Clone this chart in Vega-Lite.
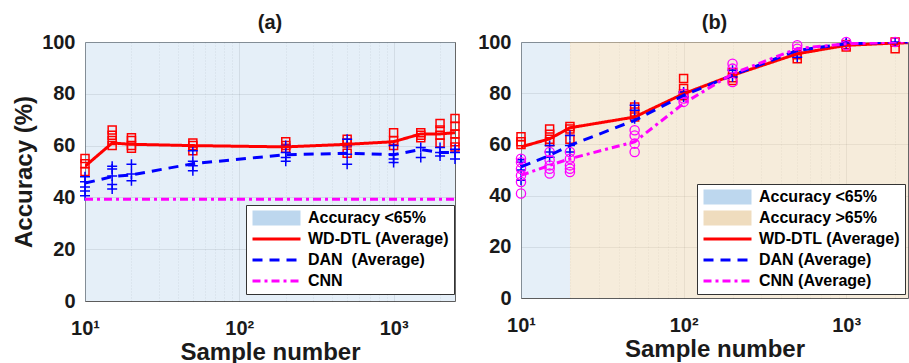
{
  "$schema": "https://vega.github.io/schema/vega-lite/v6.json",
  "padding": {"left": 12, "top": 12, "right": 0, "bottom": 0},
  "spacing": 13,
  "resolve": {
    "scale": {"color": "independent", "strokeDash": "independent", "shape": "independent"},
    "legend": {"color": "independent", "strokeDash": "independent", "shape": "independent"}
  },
  "config": {
    "font": "Liberation Sans",
    "view": {"stroke": "#666666", "strokeWidth": 1},
    "axis": {
      "labelFont": "Liberation Sans", "labelFontSize": 20, "labelFontWeight": "bold", "labelColor": "#1a1a1a",
      "titleFont": "Liberation Sans", "titleFontSize": 24, "titleFontWeight": "bold", "titleColor": "#1a1a1a",
      "ticks": false, "domain": false, "gridColor": "#262626", "gridOpacity": 0.15, "gridWidth": 1
    },
    "title": {"font": "Liberation Sans", "fontSize": 20, "fontWeight": "bold", "color": "#1a1a1a", "offset": -1, "frame": "group"},
    "legend": {
      "labelFont": "Liberation Sans", "labelFontSize": 16, "labelFontWeight": "bold", "labelColor": "#000000",
      "strokeColor": "#333333", "fillColor": "#ffffff", "padding": 5, "rowPadding": 5, "cornerRadius": 0,
      "symbolType": "stroke", "symbolSize": 2304, "symbolStrokeWidth": 3, "labelOffset": 6, "clipHeight": 16, "labelLimit": 300, "symbolOpacity": 1
    }
  },
  "datasets": {
    "a_region": [{"region": "Accuracy <65%", "from": 10, "to": 2500}],
    "a_avg": [
      {"method": "WD-DTL (Average)", "n": 10, "acc": 52}, {"method": "WD-DTL (Average)", "n": 15, "acc": 61}, {"method": "WD-DTL (Average)", "n": 20, "acc": 60.5}, {"method": "WD-DTL (Average)", "n": 50, "acc": 60}, {"method": "WD-DTL (Average)", "n": 200, "acc": 59.5}, {"method": "WD-DTL (Average)", "n": 500, "acc": 60.5}, {"method": "WD-DTL (Average)", "n": 1000, "acc": 61.5}, {"method": "WD-DTL (Average)", "n": 1500, "acc": 64.5}, {"method": "WD-DTL (Average)", "n": 2000, "acc": 64.5}, {"method": "WD-DTL (Average)", "n": 2500, "acc": 65},
      {"method": "DAN \u00a0(Average)", "n": 10, "acc": 45.5}, {"method": "DAN \u00a0(Average)", "n": 15, "acc": 48}, {"method": "DAN \u00a0(Average)", "n": 20, "acc": 48.7}, {"method": "DAN \u00a0(Average)", "n": 50, "acc": 53}, {"method": "DAN \u00a0(Average)", "n": 200, "acc": 56.5}, {"method": "DAN \u00a0(Average)", "n": 500, "acc": 57}, {"method": "DAN \u00a0(Average)", "n": 1000, "acc": 56.5}, {"method": "DAN \u00a0(Average)", "n": 1500, "acc": 58.5}, {"method": "DAN \u00a0(Average)", "n": 2000, "acc": 57.3}, {"method": "DAN \u00a0(Average)", "n": 2500, "acc": 57.3},
      {"method": "CNN", "n": 10, "acc": 39.3}, {"method": "CNN", "n": 2500, "acc": 39.3}
    ],
    "a_pts": [
      {"method": "WD-DTL", "n": 10, "acc": 55}, {"method": "WD-DTL", "n": 10, "acc": 53}, {"method": "WD-DTL", "n": 10, "acc": 50},
      {"method": "WD-DTL", "n": 15, "acc": 66}, {"method": "WD-DTL", "n": 15, "acc": 64}, {"method": "WD-DTL", "n": 15, "acc": 62}, {"method": "WD-DTL", "n": 15, "acc": 60},
      {"method": "WD-DTL", "n": 20, "acc": 63}, {"method": "WD-DTL", "n": 20, "acc": 62}, {"method": "WD-DTL", "n": 20, "acc": 60}, {"method": "WD-DTL", "n": 20, "acc": 59},
      {"method": "WD-DTL", "n": 50, "acc": 61}, {"method": "WD-DTL", "n": 50, "acc": 60}, {"method": "WD-DTL", "n": 50, "acc": 58},
      {"method": "WD-DTL", "n": 200, "acc": 61.5}, {"method": "WD-DTL", "n": 200, "acc": 60}, {"method": "WD-DTL", "n": 200, "acc": 59},
      {"method": "WD-DTL", "n": 500, "acc": 62.5}, {"method": "WD-DTL", "n": 500, "acc": 61}, {"method": "WD-DTL", "n": 500, "acc": 57},
      {"method": "WD-DTL", "n": 1000, "acc": 65}, {"method": "WD-DTL", "n": 1000, "acc": 62}, {"method": "WD-DTL", "n": 1000, "acc": 60},
      {"method": "WD-DTL", "n": 1500, "acc": 65}, {"method": "WD-DTL", "n": 1500, "acc": 64}, {"method": "WD-DTL", "n": 1500, "acc": 63},
      {"method": "WD-DTL", "n": 2000, "acc": 68.5}, {"method": "WD-DTL", "n": 2000, "acc": 66}, {"method": "WD-DTL", "n": 2000, "acc": 64}, {"method": "WD-DTL", "n": 2000, "acc": 61},
      {"method": "WD-DTL", "n": 2500, "acc": 70.5}, {"method": "WD-DTL", "n": 2500, "acc": 67.5}, {"method": "WD-DTL", "n": 2500, "acc": 64.5}, {"method": "WD-DTL", "n": 2500, "acc": 61.5}, {"method": "WD-DTL", "n": 2500, "acc": 59.5},
      {"method": "DAN", "n": 10, "acc": 48}, {"method": "DAN", "n": 10, "acc": 46}, {"method": "DAN", "n": 10, "acc": 44}, {"method": "DAN", "n": 10, "acc": 42.5}, {"method": "DAN", "n": 10, "acc": 40.6},
      {"method": "DAN", "n": 15, "acc": 52}, {"method": "DAN", "n": 15, "acc": 51}, {"method": "DAN", "n": 15, "acc": 48.3}, {"method": "DAN", "n": 15, "acc": 45}, {"method": "DAN", "n": 15, "acc": 43.2},
      {"method": "DAN", "n": 20, "acc": 52.8}, {"method": "DAN", "n": 20, "acc": 49}, {"method": "DAN", "n": 20, "acc": 46.4},
      {"method": "DAN", "n": 50, "acc": 58}, {"method": "DAN", "n": 50, "acc": 54}, {"method": "DAN", "n": 50, "acc": 52.2}, {"method": "DAN", "n": 50, "acc": 50.3},
      {"method": "DAN", "n": 200, "acc": 60}, {"method": "DAN", "n": 200, "acc": 57.3}, {"method": "DAN", "n": 200, "acc": 55.4}, {"method": "DAN", "n": 200, "acc": 54},
      {"method": "DAN", "n": 500, "acc": 62.5}, {"method": "DAN", "n": 500, "acc": 60}, {"method": "DAN", "n": 500, "acc": 56.7}, {"method": "DAN", "n": 500, "acc": 52.8},
      {"method": "DAN", "n": 1000, "acc": 60}, {"method": "DAN", "n": 1000, "acc": 56.7}, {"method": "DAN", "n": 1000, "acc": 54.8}, {"method": "DAN", "n": 1000, "acc": 53.5},
      {"method": "DAN", "n": 1500, "acc": 59.3}, {"method": "DAN", "n": 1500, "acc": 55.4},
      {"method": "DAN", "n": 2000, "acc": 59.3}, {"method": "DAN", "n": 2000, "acc": 57.3}, {"method": "DAN", "n": 2000, "acc": 56},
      {"method": "DAN", "n": 2500, "acc": 58.6}, {"method": "DAN", "n": 2500, "acc": 57.3}, {"method": "DAN", "n": 2500, "acc": 54.8}
    ],
    "b_region": [{"region": "Accuracy <65%", "from": 10, "to": 20}, {"region": "Accuracy >65%", "from": 20, "to": 2400}],
    "b_avg": [
      {"method": "WD-DTL (Average)", "n": 10, "acc": 59}, {"method": "WD-DTL (Average)", "n": 15, "acc": 62.2}, {"method": "WD-DTL (Average)", "n": 20, "acc": 66.5}, {"method": "WD-DTL (Average)", "n": 50, "acc": 70.7}, {"method": "WD-DTL (Average)", "n": 100, "acc": 79.8}, {"method": "WD-DTL (Average)", "n": 200, "acc": 87}, {"method": "WD-DTL (Average)", "n": 500, "acc": 95.4}, {"method": "WD-DTL (Average)", "n": 1000, "acc": 98.7}, {"method": "WD-DTL (Average)", "n": 2000, "acc": 99.6}, {"method": "WD-DTL (Average)", "n": 2500, "acc": 99.7},
      {"method": "DAN (Average)", "n": 10, "acc": 51.2}, {"method": "DAN (Average)", "n": 15, "acc": 55.7}, {"method": "DAN (Average)", "n": 20, "acc": 59.6}, {"method": "DAN (Average)", "n": 50, "acc": 69.4}, {"method": "DAN (Average)", "n": 100, "acc": 79.2}, {"method": "DAN (Average)", "n": 200, "acc": 87}, {"method": "DAN (Average)", "n": 500, "acc": 96.7}, {"method": "DAN (Average)", "n": 1000, "acc": 99.3}, {"method": "DAN (Average)", "n": 2000, "acc": 100}, {"method": "DAN (Average)", "n": 2500, "acc": 100},
      {"method": "CNN (Average)", "n": 10, "acc": 47.9}, {"method": "CNN (Average)", "n": 15, "acc": 51.8}, {"method": "CNN (Average)", "n": 20, "acc": 54.4}, {"method": "CNN (Average)", "n": 50, "acc": 61}, {"method": "CNN (Average)", "n": 100, "acc": 76}, {"method": "CNN (Average)", "n": 200, "acc": 87.6}, {"method": "CNN (Average)", "n": 500, "acc": 97.4}, {"method": "CNN (Average)", "n": 1000, "acc": 99.3}, {"method": "CNN (Average)", "n": 2000, "acc": 100}, {"method": "CNN (Average)", "n": 2500, "acc": 100}
    ],
    "b_pts": [
      {"method": "WD-DTL", "n": 10, "acc": 63}, {"method": "WD-DTL", "n": 10, "acc": 61}, {"method": "WD-DTL", "n": 10, "acc": 60},
      {"method": "WD-DTL", "n": 15, "acc": 66}, {"method": "WD-DTL", "n": 15, "acc": 64}, {"method": "WD-DTL", "n": 15, "acc": 62}, {"method": "WD-DTL", "n": 15, "acc": 61},
      {"method": "WD-DTL", "n": 20, "acc": 67}, {"method": "WD-DTL", "n": 20, "acc": 66}, {"method": "WD-DTL", "n": 20, "acc": 62},
      {"method": "WD-DTL", "n": 50, "acc": 74.6}, {"method": "WD-DTL", "n": 50, "acc": 72.7}, {"method": "WD-DTL", "n": 50, "acc": 70.7},
      {"method": "WD-DTL", "n": 100, "acc": 85.7}, {"method": "WD-DTL", "n": 100, "acc": 81.8}, {"method": "WD-DTL", "n": 100, "acc": 79.8}, {"method": "WD-DTL", "n": 100, "acc": 79},
      {"method": "WD-DTL", "n": 200, "acc": 88}, {"method": "WD-DTL", "n": 200, "acc": 86}, {"method": "WD-DTL", "n": 200, "acc": 85},
      {"method": "WD-DTL", "n": 500, "acc": 95}, {"method": "WD-DTL", "n": 500, "acc": 93.5},
      {"method": "WD-DTL", "n": 1000, "acc": 99}, {"method": "WD-DTL", "n": 1000, "acc": 98},
      {"method": "WD-DTL", "n": 2000, "acc": 100}, {"method": "WD-DTL", "n": 2000, "acc": 97.4},
      {"method": "DAN", "n": 10, "acc": 54}, {"method": "DAN", "n": 10, "acc": 53}, {"method": "DAN", "n": 10, "acc": 50}, {"method": "DAN", "n": 10, "acc": 46},
      {"method": "DAN", "n": 15, "acc": 59.6}, {"method": "DAN", "n": 15, "acc": 57}, {"method": "DAN", "n": 15, "acc": 55},
      {"method": "DAN", "n": 20, "acc": 63.5}, {"method": "DAN", "n": 20, "acc": 59.6}, {"method": "DAN", "n": 20, "acc": 57},
      {"method": "DAN", "n": 50, "acc": 75.3}, {"method": "DAN", "n": 50, "acc": 73.3}, {"method": "DAN", "n": 50, "acc": 70},
      {"method": "DAN", "n": 100, "acc": 80.5}, {"method": "DAN", "n": 100, "acc": 78.5},
      {"method": "DAN", "n": 200, "acc": 89}, {"method": "DAN", "n": 200, "acc": 86.3},
      {"method": "DAN", "n": 500, "acc": 96}, {"method": "DAN", "n": 500, "acc": 94},
      {"method": "DAN", "n": 1000, "acc": 99.3}, {"method": "DAN", "n": 1000, "acc": 100},
      {"method": "DAN", "n": 2000, "acc": 100},
      {"method": "CNN", "n": 10, "acc": 54.4}, {"method": "CNN", "n": 10, "acc": 53}, {"method": "CNN", "n": 10, "acc": 50.5}, {"method": "CNN", "n": 10, "acc": 47.9}, {"method": "CNN", "n": 10, "acc": 45.3}, {"method": "CNN", "n": 10, "acc": 40.8},
      {"method": "CNN", "n": 15, "acc": 57}, {"method": "CNN", "n": 15, "acc": 53.8}, {"method": "CNN", "n": 15, "acc": 51.8}, {"method": "CNN", "n": 15, "acc": 50.5}, {"method": "CNN", "n": 15, "acc": 48.6},
      {"method": "CNN", "n": 20, "acc": 57}, {"method": "CNN", "n": 20, "acc": 54.4}, {"method": "CNN", "n": 20, "acc": 51.8}, {"method": "CNN", "n": 20, "acc": 50.5}, {"method": "CNN", "n": 20, "acc": 49.2},
      {"method": "CNN", "n": 50, "acc": 65.5}, {"method": "CNN", "n": 50, "acc": 63.5}, {"method": "CNN", "n": 50, "acc": 60.3}, {"method": "CNN", "n": 50, "acc": 57},
      {"method": "CNN", "n": 100, "acc": 79.8}, {"method": "CNN", "n": 100, "acc": 77.9}, {"method": "CNN", "n": 100, "acc": 76.6},
      {"method": "CNN", "n": 200, "acc": 91.5}, {"method": "CNN", "n": 200, "acc": 89.6}, {"method": "CNN", "n": 200, "acc": 84.4},
      {"method": "CNN", "n": 500, "acc": 98.7}, {"method": "CNN", "n": 500, "acc": 97.4},
      {"method": "CNN", "n": 1000, "acc": 100}, {"method": "CNN", "n": 1000, "acc": 98.7},
      {"method": "CNN", "n": 2000, "acc": 100}
    ]
  },
  "hconcat": [
    {
      "width": 370, "height": 259,
      "title": "(a)",
      "layer": [
        {
          "data": {"name": "a_region"},
          "mark": {"type": "rect", "color": "#bdd7ee", "opacity": 0.4},
          "encoding": {
            "x": {"field": "from", "type": "quantitative", "scale": {"type": "log", "domain": [10, 2500], "nice": false},
              "axis": {"title": "Sample number", "values": [10, 20, 30, 40, 50, 60, 70, 80, 90, 100, 200, 300, 400, 500, 600, 700, 800, 900, 1000, 2000],
                "labelExpr": "datum.value == 10 ? '10\u00b9' : datum.value == 100 ? '10\u00b2' : datum.value == 1000 ? '10\u00b3' : ''",
                "labelOverlap": false, "labelFlush": false, "labelPadding": 17, "titlePadding": 2,
                "gridDash": {"condition": {"test": "datum.value == 10 || datum.value == 100 || datum.value == 1000", "value": [1, 0]}, "value": [1, 2]}}},
            "x2": {"field": "to"}
          }
        },
        {
          "data": {"name": "a_pts"},
          "transform": [{"filter": "datum.method === 'WD-DTL'"}],
          "mark": {"type": "point", "shape": "square", "size": 64, "filled": false, "stroke": "#ff0000", "strokeWidth": 1.5, "opacity": 1},
          "encoding": {
            "x": {"field": "n", "type": "quantitative"},
            "y": {"field": "acc", "type": "quantitative", "scale": {"domain": [0, 100], "nice": false},
              "axis": {"title": "Accuracy (%)", "values": [0, 20, 40, 60, 80, 100], "labelPadding": 10, "titlePadding": 5}}
          }
        },
        {
          "data": {"name": "a_pts"},
          "transform": [{"filter": "datum.method === 'DAN'"}],
          "mark": {"type": "point", "shape": "M-1,0H1M0,-1V1", "size": 100, "filled": false, "stroke": "#0000ff", "strokeWidth": 1.5, "opacity": 1},
          "encoding": {"x": {"field": "n", "type": "quantitative"}, "y": {"field": "acc", "type": "quantitative"}}
        },
        {
          "data": {"name": "a_avg"},
          "mark": {"type": "point", "opacity": 0, "size": 1},
          "encoding": {
            "x": {"field": "n", "type": "quantitative"},
            "y": {"field": "acc", "type": "quantitative"},
            "shape": {"field": "method", "type": "nominal",
              "scale": {"domain": ["Accuracy <65%", "WD-DTL (Average)", "DAN \u00a0(Average)", "CNN"], "range": ["M-1,-0.25H1M-1,-0.125H1M-1,0H1M-1,0.125H1M-1,0.25H1", "stroke", "stroke", "stroke"]},
              "legend": {"title": null, "orient": "none", "legendX": 161, "legendY": 163}}
          }
        },
        {
          "data": {"name": "a_avg"},
          "mark": {"type": "line", "strokeWidth": 3, "clip": true},
          "encoding": {
            "x": {"field": "n", "type": "quantitative"},
            "y": {"field": "acc", "type": "quantitative"},
            "color": {"field": "method", "type": "nominal",
              "scale": {"domain": ["Accuracy <65%", "WD-DTL (Average)", "DAN \u00a0(Average)", "CNN"], "range": ["#bdd7ee", "#ff0000", "#0000ff", "#ff00ff"]},
              "legend": {"title": null, "orient": "none", "legendX": 161, "legendY": 163}},
            "strokeDash": {"field": "method", "type": "nominal",
              "scale": {"domain": ["Accuracy <65%", "WD-DTL (Average)", "DAN \u00a0(Average)", "CNN"], "range": [[1, 0], [1, 0], [10, 7], [8, 4, 3, 4]]},
              "legend": {"title": null, "orient": "none", "legendX": 161, "legendY": 163}}
          }
        }
      ]
    },
    {
      "width": 387, "height": 256,
      "title": "(b)",
      "layer": [
        {
          "data": {"name": "b_region"},
          "transform": [{"filter": "datum.region === 'Accuracy >65%'"}],
          "mark": {"type": "rect", "color": "#efdcbe", "opacity": 0.55},
          "encoding": {
            "x": {"field": "from", "type": "quantitative", "scale": {"type": "log", "domain": [10, 2400], "nice": false},
              "axis": {"title": "Sample number", "values": [10, 20, 30, 40, 50, 60, 70, 80, 90, 100, 200, 300, 400, 500, 600, 700, 800, 900, 1000, 2000],
                "labelExpr": "datum.value == 10 ? '10\u00b9' : datum.value == 100 ? '10\u00b2' : datum.value == 1000 ? '10\u00b3' : ''",
                "labelOverlap": false, "labelFlush": false, "labelPadding": 17, "titlePadding": 2,
                "gridDash": {"condition": {"test": "datum.value == 10 || datum.value == 100 || datum.value == 1000", "value": [1, 0]}, "value": [1, 2]}}},
            "x2": {"field": "to"}
          }
        },
        {
          "data": {"name": "b_region"},
          "transform": [{"filter": "datum.region === 'Accuracy <65%'"}],
          "mark": {"type": "rect", "color": "#bdd7ee", "opacity": 0.4},
          "encoding": {"x": {"field": "from", "type": "quantitative"}, "x2": {"field": "to"}}
        },
        {
          "data": {"name": "b_pts"},
          "transform": [{"filter": "datum.method === 'WD-DTL'"}],
          "mark": {"type": "point", "shape": "square", "size": 64, "filled": false, "stroke": "#ff0000", "strokeWidth": 1.5, "opacity": 1},
          "encoding": {
            "x": {"field": "n", "type": "quantitative"},
            "y": {"field": "acc", "type": "quantitative", "scale": {"domain": [0, 100], "nice": false},
              "axis": {"title": null, "values": [0, 20, 40, 60, 80, 100], "labelPadding": 10}}
          }
        },
        {
          "data": {"name": "b_pts"},
          "transform": [{"filter": "datum.method === 'DAN'"}],
          "mark": {"type": "point", "shape": "M-1,0H1M0,-1V1", "size": 100, "filled": false, "stroke": "#0000ff", "strokeWidth": 1.5, "opacity": 1},
          "encoding": {"x": {"field": "n", "type": "quantitative"}, "y": {"field": "acc", "type": "quantitative"}}
        },
        {
          "data": {"name": "b_pts"},
          "transform": [{"filter": "datum.method === 'CNN'"}],
          "mark": {"type": "point", "shape": "circle", "size": 85, "filled": false, "stroke": "#ff00ff", "strokeWidth": 1.3, "opacity": 1},
          "encoding": {"x": {"field": "n", "type": "quantitative"}, "y": {"field": "acc", "type": "quantitative"}}
        },
        {
          "data": {"name": "b_avg"},
          "mark": {"type": "point", "opacity": 0, "size": 1},
          "encoding": {
            "x": {"field": "n", "type": "quantitative"},
            "y": {"field": "acc", "type": "quantitative"},
            "shape": {"field": "method", "type": "nominal",
              "scale": {"domain": ["Accuracy <65%", "Accuracy >65%", "WD-DTL (Average)", "DAN (Average)", "CNN (Average)"], "range": ["M-1,-0.25H1M-1,-0.125H1M-1,0H1M-1,0.125H1M-1,0.25H1", "M-1,-0.25H1M-1,-0.125H1M-1,0H1M-1,0.125H1M-1,0.25H1", "stroke", "stroke", "stroke"]},
              "legend": {"title": null, "orient": "none", "legendX": 176, "legendY": 142}}
          }
        },
        {
          "data": {"name": "b_avg"},
          "mark": {"type": "line", "strokeWidth": 3, "clip": true},
          "encoding": {
            "x": {"field": "n", "type": "quantitative"},
            "y": {"field": "acc", "type": "quantitative"},
            "color": {"field": "method", "type": "nominal",
              "scale": {"domain": ["Accuracy <65%", "Accuracy >65%", "WD-DTL (Average)", "DAN (Average)", "CNN (Average)"], "range": ["#bdd7ee", "#efdcbe", "#ff0000", "#0000ff", "#ff00ff"]},
              "legend": {"title": null, "orient": "none", "legendX": 176, "legendY": 142}},
            "strokeDash": {"field": "method", "type": "nominal",
              "scale": {"domain": ["Accuracy <65%", "Accuracy >65%", "WD-DTL (Average)", "DAN (Average)", "CNN (Average)"], "range": [[1, 0], [1, 0], [1, 0], [10, 7], [8, 4, 3, 4]]},
              "legend": {"title": null, "orient": "none", "legendX": 176, "legendY": 142}}
          }
        }
      ]
    }
  ]
}
